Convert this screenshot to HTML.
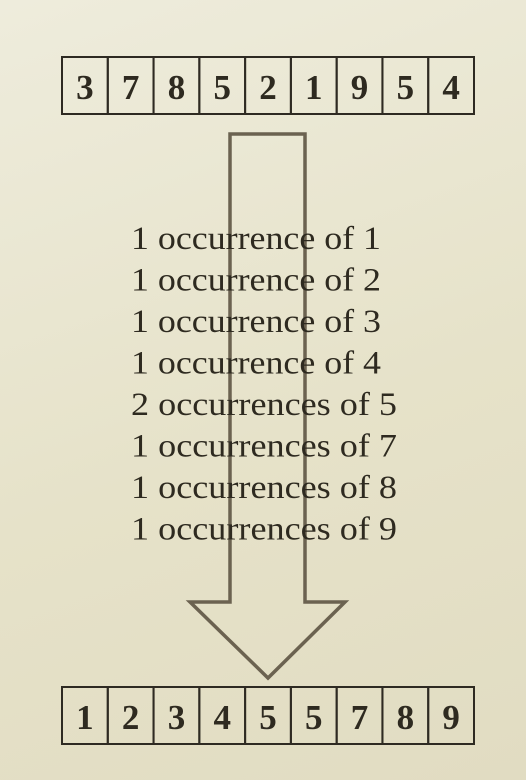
<!DOCTYPE html>
<html><head><meta charset="utf-8"><style>
html,body{margin:0;padding:0;}
body{width:526px;height:780px;overflow:hidden;background:linear-gradient(160deg,#eeecdc 0%,#e6e2c9 55%,#e1dcc2 100%);}
svg{display:block;font-family:"Liberation Serif",serif;}
</style></head><body>
<svg width="526" height="780">
<g id="top"></g>
<polygon points="230,134 305,134 305,602 345,602 268,678 190,602 230,602" fill="none" stroke="#6b6250" stroke-width="3.5"/>
<g id="counts" fill="#2e2a20" font-size="33"></g>
<g id="bot"></g>
</svg>
<script>
const inputValues=[3,7,8,5,2,1,9,5,4];
const sortedValues=[1,2,3,4,5,5,7,8,9];
const countLines=["1 occurrence of 1","1 occurrence of 2","1 occurrence of 3","1 occurrence of 4","2 occurrences of 5","1 occurrences of 7","1 occurrences of 8","1 occurrences of 9"];
const NS="http://www.w3.org/2000/svg";
function row(g,vals,y,name){
  const x0=62,w=(474-62)/vals.length,h=57;
  vals.forEach((v,i)=>{
    const r=document.createElementNS(NS,'rect');
    
    
    r.setAttribute('x',x0+i*w);r.setAttribute('y',y);r.setAttribute('width',w);r.setAttribute('height',h);
    r.setAttribute('fill','none');r.setAttribute('stroke','#2e2a22');r.setAttribute('stroke-width','2');
    g.appendChild(r);
    const t=document.createElementNS(NS,'text');
    
    
    t.setAttribute('x',x0+i*w+w/2);t.setAttribute('y',y+42);t.setAttribute('text-anchor','middle');
    t.setAttribute('font-size','35');t.setAttribute('font-weight','bold');t.setAttribute('fill','#2e2a20');
    t.textContent=v;g.appendChild(t);
  });
}
row(document.getElementById('top'),inputValues,57,'input');
row(document.getElementById('bot'),sortedValues,687,'sorted');
const cg=document.getElementById('counts');
countLines.forEach((s,i)=>{
  const t=document.createElementNS(NS,'text');
  
  
  t.setAttribute('x',131);t.setAttribute('y',249+i*41.5);
  t.setAttribute('textLength',s.startsWith('1 occurrence ')?250:266);
  t.setAttribute('lengthAdjust','spacingAndGlyphs');
  t.textContent=s;cg.appendChild(t);
});
</script>
</body></html>
